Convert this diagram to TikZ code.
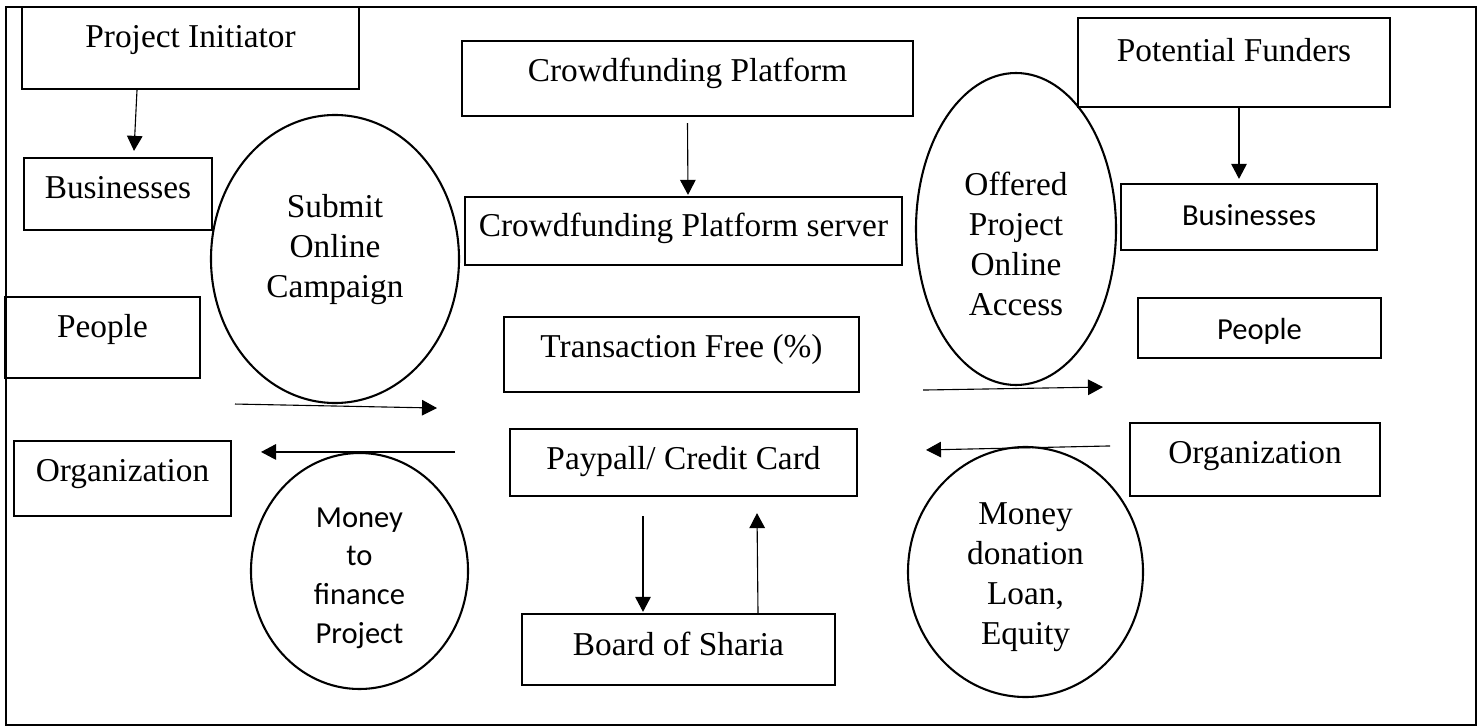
\documentclass[tikz,border=0pt]{standalone}
\usepackage{fontspec}
\setmainfont{Liberation Serif}
\newfontfamily\calibri{Carlito}
\usetikzlibrary{shapes.geometric,arrows.meta,calc}

\begin{document}
\begin{tikzpicture}[x=0.36pt, y=-0.36pt,
  font=\fontsize{12pt}{14.4pt}\selectfont,
  box/.style={draw, rectangle, line width=0.8pt, inner sep=0pt, text height=14.4pt},
  oval/.style={draw, ellipse, line width=0.75pt, inner sep=0pt},
  arr/.style={-{Triangle[length=5.4pt, width=5.6pt]}, line width=0.4pt},
  cal/.style={font=\calibri\fontsize{11pt}{13.9pt}\selectfont}]

\useasboundingbox (0,0) rectangle (1480,728);
\draw[line width=0.8pt] (6,7) rectangle (1476,725);


\node[box, minimum width=121.32pt, text height=14.76pt, text depth=14.76pt] (PI) at (190.5,48) {Project Initiator};
\node[box, minimum width=67.68pt, text depth=11.52pt] (B1) at (118,194) {Businesses};
\node[box, minimum width=70.2pt, text depth=14.76pt] (P1) at (102.5,337.5) {People};
\node[box, minimum width=78.12pt, text depth=12.6pt] (O1) at (122.5,478.5) {Organization};


\node[box, minimum width=162.36pt, text height=14.76pt, text depth=12.24pt] (CP) at (687.5,78.5) {Crowdfunding Platform};
\node[box, minimum width=157.32pt, text depth=10.08pt] (CS) at (683.5,231) {Crowdfunding Platform server};
\node[box, minimum width=127.8pt, text depth=12.6pt] (TF) at (681.5,354.5) {Transaction Free (\%)};
\node[box, minimum width=124.92pt, text depth=9.72pt] (PC) at (683.5,462.5) {Paypall/ Credit Card};
\node[box, minimum width=112.68pt, text height=14.76pt, text depth=10.8pt] (BS) at (678.5,649.5) {Board of Sharia};


\node[box, minimum width=112.32pt, text height=15.84pt, text depth=16.2pt] (PF) at (1234,62.5) {Potential Funders};
\node[box, cal, minimum width=92.16pt, text height=15.12pt, text depth=8.64pt] (B2) at (1249,217) {Businesses};
\node[box, cal, minimum width=87.48pt, text height=14.76pt, text depth=6.84pt] (P2) at (1259.5,328) {People};
\node[box, minimum width=90pt, text depth=11.88pt] (O2) at (1255,459.5) {Organization};


\node[oval, minimum width=89.28pt, minimum height=103.68pt] (E1) at (335,259) {};
\node[oval, minimum width=72pt, minimum height=112.32pt] (E2) at (1016,229) {};
\node[oval, minimum width=78.12pt, minimum height=84.96pt] (E3) at (359.5,571) {};
\node[oval, minimum width=84.6pt, minimum height=90pt] (E4) at (1025.5,572) {};

\node[align=center] (L1) at (335,250) {Submit\\Online\\Campaign};
\node[align=center] (L2) at (1016,243.5) {Offered\\Project\\Online\\Access};
\node[align=center, cal] (L3) at (359.5,578) {Money\\to\\finance\\Project};
\node[align=center] (L4) at (1025.5,577.5) {Money\\donation\\Loan,\\Equity};


\draw[arr] ($(PI.south)+(-53.5,0)$) -- ($(B1.north)+(16,-6)$);
\draw[arr] ($(CP.south)+(0,6)$) -- ($(CS.north)+(4.5,-1)$);
\draw[arr] ($(PF.south)+(5,0)$) -- ($(B2.north)+(-10,-4)$);
\draw[arr] ($(PC.south)+(-40.5,19)$) -- ($(BS.north)+(-35.5,-1)$);
\draw[arr] ($(BS.north)+(79.5,0)$) -- ($(PC.south)+(73.5,16)$);


\draw[arr] ($(E1.south)+(-100,0)$) -- ($(E1.south)+(102,4)$);
\draw[arr] ($(E3.north)+(95.5,0)$) -- ($(E3.north)+(-98.5,0)$);
\draw[arr] ($(E2.south)+(-93,4)$) -- ($(E2.south)+(87,1)$);
\draw[arr] ($(E4.north)+(84.5,0)$) -- ($(E4.north)+(-99.5,4)$);

\end{tikzpicture}
\end{document}
